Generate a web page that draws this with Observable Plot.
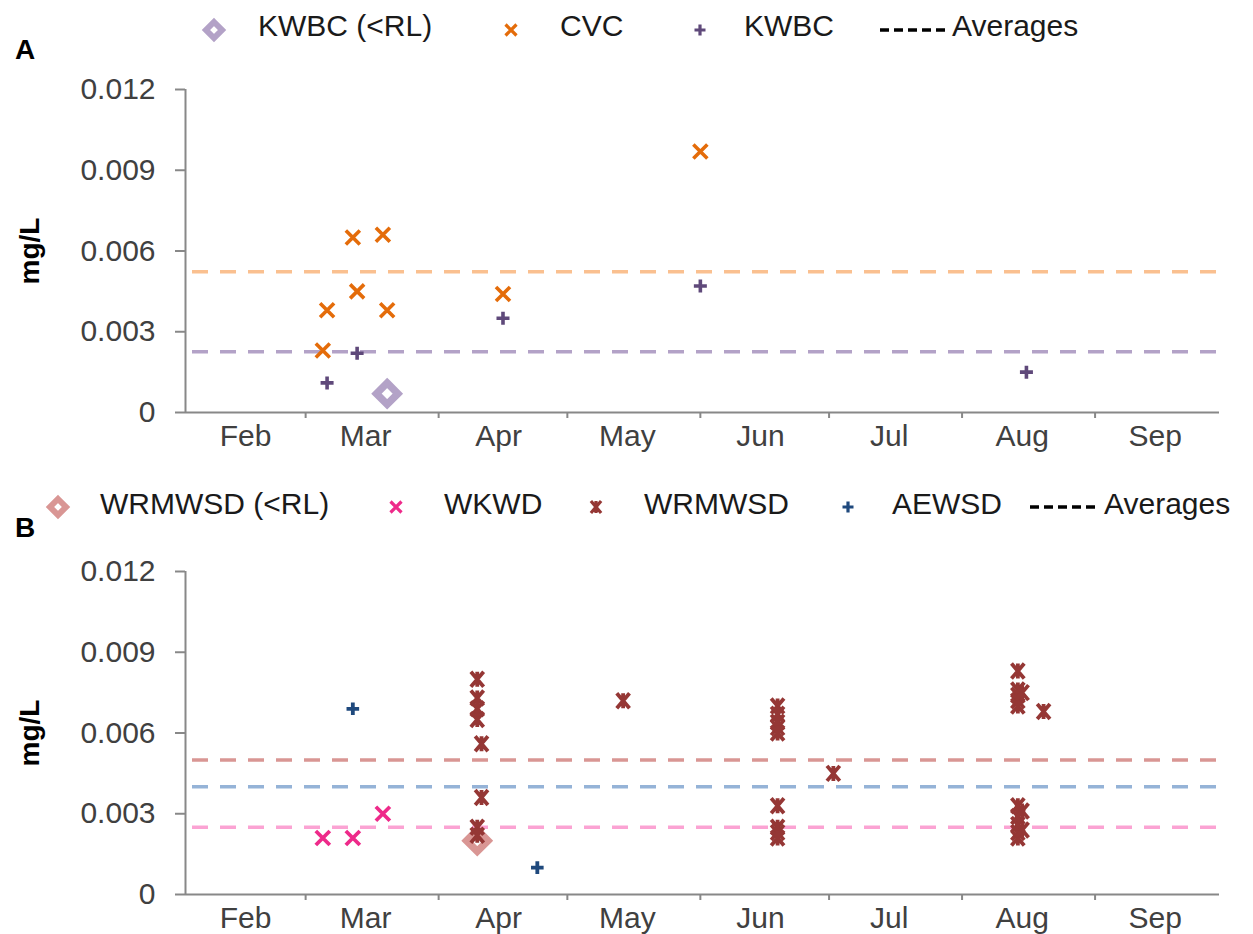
<!DOCTYPE html>
<html><head><meta charset="utf-8">
<script src="https://cdn.jsdelivr.net/npm/d3@7"></script>
<script src="https://cdn.jsdelivr.net/npm/@observablehq/plot@0.6"></script>
<style>
body{margin:0;background:#fff;font-family:"Liberation Sans",Arial,sans-serif;}
#wrap{width:1253px;}
svg{display:block;}
.legend{position:relative;width:1253px;}
.legend .txt{position:absolute;font-size:30px;line-height:30px;white-space:nowrap;color:#1a1a1a;}
.legend .sym{position:absolute;}
.legend .panel{position:absolute;font-size:28px;line-height:28px;font-weight:bold;color:#000;}
[aria-label="y-axis label"]{font-weight:bold;font-size:28px;fill:#000;}
</style></head><body><div id="wrap"></div>
<script>
const parse = d3.utcParse("%Y-%m-%d");

// ---------- shared axis values ----------
const yTicks = [0, 0.003, 0.006, 0.009, 0.012];
const monthLabels = ["Feb", "Mar", "Apr", "May", "Jun", "Jul", "Aug", "Sep"];
const xStart = "2019-02-01";
const xEnd = "2019-09-30";

// ---------- Panel A ----------
const aSeries = ["KWBC (<RL)", "CVC", "KWBC"];
const aRLDates = ["2019-03-20"];
const aRLValues = [0.0007];
const aCVCDates = ["2019-03-05", "2019-03-06", "2019-03-12", "2019-03-13", "2019-03-19", "2019-03-20", "2019-04-16", "2019-06-01"];
const aCVCValues = [0.0023, 0.0038, 0.0065, 0.0045, 0.0066, 0.0038, 0.0044, 0.0097];
const aKWBCDates = ["2019-03-06", "2019-03-13", "2019-04-16", "2019-06-01", "2019-08-16"];
const aKWBCValues = [0.0011, 0.0022, 0.0035, 0.0047, 0.0015];
const aAvgSeries = ["CVC", "KWBC"];
const aAvgValues = [0.00523, 0.00226];

// ---------- Panel B ----------
const bSeries = ["WRMWSD (<RL)", "WKWD", "WRMWSD", "AEWSD"];
const bRLDates = ["2019-04-10"];
const bRLValues = [0.0020];
const bWKWDDates = ["2019-03-05", "2019-03-12", "2019-03-19"];
const bWKWDValues = [0.0021, 0.0021, 0.0030];
const bWRMWSDDates = [
  "2019-04-10", "2019-04-10", "2019-04-10", "2019-04-10", "2019-04-11", "2019-04-11", "2019-04-10", "2019-04-10",
  "2019-05-14",
  "2019-06-19", "2019-06-19", "2019-06-19", "2019-06-19", "2019-06-19", "2019-06-19", "2019-06-19", "2019-06-19", "2019-06-19",
  "2019-07-02",
  "2019-08-14", "2019-08-14", "2019-08-14", "2019-08-14", "2019-08-14", "2019-08-14", "2019-08-14", "2019-08-14", "2019-08-14", "2019-08-14",
  "2019-08-15", "2019-08-15", "2019-08-15",
  "2019-08-20"
];
const bWRMWSDValues = [
  0.0080, 0.0073, 0.0069, 0.0065, 0.0056, 0.0036, 0.0025, 0.0022,
  0.0072,
  0.0070, 0.0067, 0.0064, 0.0062, 0.0060, 0.0033, 0.0025, 0.0023, 0.0021,
  0.0045,
  0.0083, 0.0076, 0.0074, 0.0072, 0.0070, 0.0033, 0.0029, 0.0026, 0.0023, 0.0021,
  0.0075, 0.0031, 0.0024,
  0.0068
];
const bAEWSDDates = ["2019-03-12", "2019-04-24"];
const bAEWSDValues = [0.0069, 0.0010];
const bAvgSeries = ["WRMWSD", "AEWSD", "WKWD"];
const bAvgValues = [0.0050, 0.0040, 0.0025];

// ---------- styles ----------
const markColor = {
  "KWBC (<RL)": "#b3a2c7", "CVC": "#e46c0a", "KWBC": "#5f497a",
  "WRMWSD (<RL)": "#d99694", "WKWD": "#ee2a8a", "WRMWSD": "#953735", "AEWSD": "#1f497d"
};
const avgColorA = {"CVC": "#fac090", "KWBC": "#b3a2c7"};
const avgColorB = {"WRMWSD": "#d99694", "AEWSD": "#95b3d7", "WKWD": "#fba3d3"};

const symbols = {
  times: {draw(c, s) {const r = Math.sqrt(s / Math.PI); c.moveTo(-r, -r); c.lineTo(r, r); c.moveTo(-r, r); c.lineTo(r, -r);}},
  plus: {draw(c, s) {const r = Math.sqrt(s / Math.PI); c.moveTo(-r, 0); c.lineTo(r, 0); c.moveTo(0, -r); c.lineTo(0, r);}},
  star: {draw(c, s) {const r = Math.sqrt(s / Math.PI); const w = r * 0.85; c.moveTo(-w, -r); c.lineTo(w, r); c.moveTo(-w, r); c.lineTo(w, -r); c.moveTo(0, -r); c.lineTo(0, r);}},
  diamond: {draw(c, s) {const r = Math.sqrt(s / Math.PI); c.moveTo(0, -r); c.lineTo(r, 0); c.lineTo(0, r); c.lineTo(-r, 0); c.closePath();}}
};

const rows = (dates, values) => dates.map((d, i) => ({date: parse(d), value: values[i]}));
const avgRows = (series, values) => series.map((s, i) => ({series: s, value: values[i]}));

const xDomain = [parse(xStart), parse(xEnd)];
const monthStarts = monthLabels.map((m, i) => new Date(Date.UTC(2019, 1 + i, 1)));
const monthMids = monthLabels.map((m, i) => new Date(Date.UTC(2019, 1 + i, 15)));
const fmtY = d => d === 0 ? "0" : d.toFixed(3);

function dot(data, sym, color, r, sw, extra = {}) {
  return Plot.dot(data, Object.assign({x: "date", y: "value", symbol: () => sym, r, stroke: color, strokeWidth: sw, fill: "none"}, extra));
}

function panel(o) {
  return Plot.plot({
    width: 1253, height: o.height,
    marginTop: o.marginTop, marginBottom: o.marginBottom, marginLeft: 185, marginRight: 34,
    style: {fontFamily: "'Liberation Sans', Arial, sans-serif", fontSize: "30px", color: "#404040", background: "#fff", overflow: "visible"},
    x: {type: "utc", domain: xDomain},
    y: {domain: [0, 0.012]},
    symbol: {type: "identity"},
    marks: [
      Plot.ruleY(o.avg, {y: "value", stroke: d => o.avgColor[d.series], strokeWidth: 3.5, strokeDasharray: "16,12", insetLeft: 7}),
      Plot.ruleX([xDomain[0]], {stroke: "#888", strokeWidth: 2}),
      Plot.ruleY([0], {stroke: "#888", strokeWidth: 2}),
      Plot.axisY({ticks: yTicks, tickSize: 10, tickPadding: 20, tickFormat: fmtY, stroke: "#888", strokeWidth: 2, strokeOpacity: 1,
        label: "mg/L", labelAnchor: "center", labelOffset: 166, labelArrow: "none", fontSize: 30}),
      Plot.axisX({ticks: monthStarts.slice(1), tickSize: 6, tickFormat: () => "", stroke: "#888", strokeWidth: 2, strokeOpacity: 1, label: null}),
      Plot.axisX({ticks: monthMids, tickSize: 0, tickPadding: 12, tickFormat: d => monthLabels[d.getUTCMonth() - 1], label: null, fontSize: 30}),
      ...o.dots
    ]
  });
}

const plotA = panel({
  height: 406, marginTop: 33, marginBottom: 50,
  avg: avgRows(aAvgSeries, aAvgValues), avgColor: avgColorA,
  dots: [
    dot(rows(aRLDates, aRLValues), symbols.diamond, markColor[aSeries[0]], 10.7, 7.4, {fill: "#fff"}),
    dot(rows(aCVCDates, aCVCValues), symbols.times, markColor[aSeries[1]], 7, 3.6),
    dot(rows(aKWBCDates, aKWBCValues), symbols.plus, markColor[aSeries[2]], 6.5, 3.6)
  ]
});

const plotB = panel({
  height: 394, marginTop: 31, marginBottom: 40,
  avg: avgRows(bAvgSeries, bAvgValues), avgColor: avgColorB,
  dots: [
    dot(rows(bRLDates, bRLValues), symbols.diamond, markColor[bSeries[0]], 10.7, 7.4, {fill: "#fff"}),
    dot(rows(bWKWDDates, bWKWDValues), symbols.times, markColor[bSeries[1]], 7, 3.8),
    dot(rows(bWRMWSDDates, bWRMWSDValues), symbols.star, markColor[bSeries[2]], 7.5, 3.8),
    dot(rows(bAEWSDDates, bAEWSDValues), symbols.plus, markColor[bSeries[3]], 6.3, 3.8)
  ]
});

// ---------- legends (HTML) ----------
function symSvg(kind, color, size) {
  const s = 34;
  const svg = d3.create("svg").attr("width", s).attr("height", s).attr("viewBox", `${-s / 2} ${-s / 2} ${s} ${s}`);
  if (kind === "dash") {
    svg.attr("width", 72).attr("viewBox", `-36 ${-s / 2} 72 ${s}`);
    svg.append("line").attr("x1", -34).attr("x2", 34).attr("y1", 0).attr("y2", 0)
      .attr("stroke", color).attr("stroke-width", 3.5).attr("stroke-dasharray", "9,5");
    return svg.node();
  }
  const r = size.r;
  const path = d3.path();
  symbols[kind].draw(path, r * r * Math.PI);
  svg.append("path").attr("d", path.toString()).attr("stroke", color).attr("stroke-width", size.sw)
    .attr("fill", kind === "diamond" ? "#fff" : "none");
  return svg.node();
}

function legend(height, panelLetter, letterTop, symY, textTop, items) {
  const div = d3.create("div").attr("class", "legend").style("height", height + "px");
  div.append("div").attr("class", "panel").style("left", "15px").style("top", letterTop + "px").text(panelLetter);
  for (const it of items) {
    const w = it.kind === "dash" ? 72 : 34;
    div.append(() => symSvg(it.kind, it.color, it.size)).attr("class", "sym")
      .style("left", (it.cx - w / 2) + "px").style("top", (symY - 17) + "px");
    div.append("div").attr("class", "txt").style("left", it.tx + "px").style("top", textTop + "px").text(it.label);
  }
  return div.node();
}

const wrap = document.getElementById("wrap");
wrap.appendChild(legend(56, "A", 36, 30, 11, [
  {kind: "diamond", color: markColor[aSeries[0]], size: {r: 8, sw: 6}, cx: 214, tx: 258, label: aSeries[0]},
  {kind: "times", color: markColor[aSeries[1]], size: {r: 5.5, sw: 3.2}, cx: 511, tx: 560, label: aSeries[1]},
  {kind: "plus", color: markColor[aSeries[2]], size: {r: 5.5, sw: 3.2}, cx: 700, tx: 744, label: aSeries[2]},
  {kind: "dash", color: "#000", cx: 914, tx: 952, label: "Averages"}
]));
wrap.appendChild(plotA);
wrap.appendChild(legend(78, "B", 52, 45, 27, [
  {kind: "diamond", color: markColor[bSeries[0]], size: {r: 8, sw: 6}, cx: 58, tx: 100, label: bSeries[0]},
  {kind: "times", color: markColor[bSeries[1]], size: {r: 5.5, sw: 3.2}, cx: 396, tx: 444, label: bSeries[1]},
  {kind: "star", color: markColor[bSeries[2]], size: {r: 6, sw: 3.2}, cx: 596, tx: 644, label: bSeries[2]},
  {kind: "plus", color: markColor[bSeries[3]], size: {r: 5.5, sw: 3.2}, cx: 848, tx: 892, label: bSeries[3]},
  {kind: "dash", color: "#000", cx: 1064, tx: 1104, label: "Averages"}
]));
wrap.appendChild(plotB);
</script></body></html>
